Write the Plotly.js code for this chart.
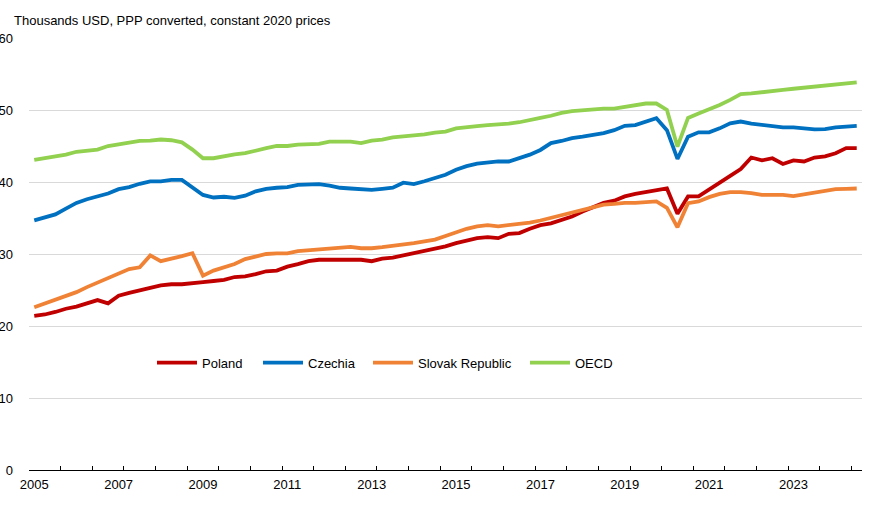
<!DOCTYPE html>
<html>
<head>
<meta charset="utf-8">
<script src="https://cdn.plot.ly/plotly-3.0.1.min.js"></script>
<style>
  html, body { margin: 0; padding: 0; background: #fff; }
  #chart { width: 877px; height: 508px; }
</style>
</head>
<body>
<div id="chart"></div>
<script>
// Quarterly categories, 2005Q1 to 2024Q3
const quarters = [
  "2005Q1","2005Q2","2005Q3","2005Q4",
  "2006Q1","2006Q2","2006Q3","2006Q4",
  "2007Q1","2007Q2","2007Q3","2007Q4",
  "2008Q1","2008Q2","2008Q3","2008Q4",
  "2009Q1","2009Q2","2009Q3","2009Q4",
  "2010Q1","2010Q2","2010Q3","2010Q4",
  "2011Q1","2011Q2","2011Q3","2011Q4",
  "2012Q1","2012Q2","2012Q3","2012Q4",
  "2013Q1","2013Q2","2013Q3","2013Q4",
  "2014Q1","2014Q2","2014Q3","2014Q4",
  "2015Q1","2015Q2","2015Q3","2015Q4",
  "2016Q1","2016Q2","2016Q3","2016Q4",
  "2017Q1","2017Q2","2017Q3","2017Q4",
  "2018Q1","2018Q2","2018Q3","2018Q4",
  "2019Q1","2019Q2","2019Q3","2019Q4",
  "2020Q1","2020Q2","2020Q3","2020Q4",
  "2021Q1","2021Q2","2021Q3","2021Q4",
  "2022Q1","2022Q2","2022Q3","2022Q4",
  "2023Q1","2023Q2","2023Q3","2023Q4",
  "2024Q1","2024Q2","2024Q3"
];

const poland = [
  21.4, 21.6, 21.95, 22.4, 22.7, 23.2, 23.6, 23.15, 24.2, 24.6, 25.0, 25.3, 25.65, 25.8, 25.8, 25.9,
  26.1, 26.25, 26.4, 26.8, 26.9, 27.2, 27.6, 27.7, 28.25, 28.6, 29.0,
  29.2, 29.2, 29.2, 29.2, 29.2, 29.0, 29.35, 29.5, 29.8, 30.05, 30.45, 30.75, 31.05, 31.5, 31.9,
  32.2, 32.35, 32.2, 32.8, 32.9, 33.5, 34.0, 34.25, 34.7, 35.2, 35.9, 36.5,
  37.1, 37.4, 38.0, 38.35, 38.6, 38.85, 39.1, 35.6, 38.0, 38.0, 38.9, 39.9, 40.85, 41.8, 43.4,
  43.0, 43.3, 42.5, 43.0, 42.85, 43.4, 43.55, 44.0, 44.7, 44.7
];

const czechia = [
  34.67, 35.1, 35.5, 36.3, 37.1, 37.6, 38.0, 38.4, 39.0, 39.3, 39.75, 40.1, 40.1, 40.3, 40.3, 39.3,
  38.2, 37.85, 37.95, 37.8, 38.1, 38.7, 39.05, 39.2, 39.3, 39.6, 39.7,
  39.7, 39.5, 39.2, 39.1, 39.05, 38.9, 39.05, 39.2, 39.9, 39.7, 40.1, 40.5, 41.0, 41.7, 42.2,
  42.55, 42.75, 42.85, 42.85, 43.3, 43.8, 44.45, 45.4, 45.7, 46.1, 46.3, 46.5,
  46.8, 47.2, 47.8, 47.9, 48.4, 48.85, 47.2, 43.2, 46.3, 46.9, 46.9, 47.45, 48.15, 48.4, 48.1,
  47.95, 47.8, 47.6, 47.6, 47.45, 47.3, 47.35, 47.6, 47.7, 47.8
];

const slovak = [
  22.6, 23.1, 23.6, 24.1, 24.7, 25.4, 26.0, 26.7, 27.3, 27.9, 28.15, 29.8, 29.0, 29.3, 29.7, 30.1,
  27.0, 27.7, 28.1, 28.6, 29.3, 29.6, 30.0, 30.1, 30.1, 30.4, 30.5,
  30.65, 30.8, 30.9, 31.0, 30.8, 30.8, 30.95, 31.1, 31.3, 31.5, 31.75, 32.0, 32.5, 33.05, 33.5,
  33.85, 34.0, 33.85, 34.0, 34.15, 34.35, 34.65, 35.0, 35.35, 35.8, 36.1, 36.5,
  36.85, 36.95, 37.1, 37.1, 37.2, 37.3, 36.4, 33.7, 37.05, 37.3, 37.9, 38.35, 38.6, 38.6, 38.45,
  38.2, 38.2, 38.2, 38.05, 38.3, 38.6, 38.8, 39.0, 39.05, 39.1
];

const oecd = [
  43.07, 43.3, 43.5, 43.8, 44.2, 44.4, 44.5, 45.0, 45.2, 45.5, 45.7, 45.75, 45.9, 45.8, 45.5, 44.5,
  43.3, 43.3, 43.6, 43.85, 44.0, 44.4, 44.7, 45.0, 45.0, 45.2, 45.3,
  45.3, 45.6, 45.6, 45.6, 45.4, 45.75, 45.9, 46.2, 46.35, 46.45, 46.6, 46.85, 47.0, 47.45, 47.65,
  47.75, 47.9, 47.95, 48.1, 48.3, 48.55, 48.9, 49.2, 49.6, 49.85, 50.0, 50.1,
  50.2, 50.2, 50.4, 50.7, 50.9, 50.9, 50.0, 44.9, 48.9, 49.5, 50.05, 50.7, 51.4, 52.2, 52.3,
  52.5, 52.7, 52.8, 52.95, 53.1, 53.2, 53.4, 53.5, 53.65, 53.85
];

const seriesNames = ["Poland", "Czechia", "Slovak Republic", "OECD"];
const seriesColors = ["#C00000", "#0070C0", "#F08236", "#92D050"];
const tickLabels = ["2005","2007","2009","2011","2013","2015","2017","2019","2021","2023"];
const titleText = "Thousands USD, PPP converted, constant 2020 prices";

// numeric position of each quarter (category centre)
function qpos(q) { return parseInt(q.slice(0, 4), 10) + (parseInt(q.slice(5), 10) - 1) / 4; }
const xs = quarters.map(qpos);
const half = 0.125;
const xRange = [xs[0] - half, xs[xs.length - 1] + half];
const tickVals = tickLabels.map(t => qpos(t + "Q1"));
// tick marks at category boundaries every 3 quarters
const boundaryTicks = [];
for (let i = 0; i < xs.length; i += 3) boundaryTicks.push(xs[i] - half);

const FONT = "Liberation Sans, Arial, sans-serif";
const legendIds = ["legend", "legend2", "legend3", "legend4"];
const legendLeftPx = [152, 258, 368, 525];   // legend box positions (layout)
const allSeries = [poland, czechia, slovak, oecd];
const traces = allSeries.map((vals, k) => ({
  type: "scatter",
  mode: "lines",
  name: seriesNames[k],
  legend: legendIds[k],
  x: xs,
  y: vals,
  // last series sits on the overlay axis that carries the boundary tick marks
  xaxis: k === allSeries.length - 1 ? "x2" : "x",
  line: { color: seriesColors[k], width: 3.8 },
  hoverinfo: "skip"
}));

const plotLeft = 29, plotWidth = 833, plotBottom = 470.3, plotHeight = 432;

const layout = {
  width: 877,
  height: 508,
  paper_bgcolor: "#ffffff",
  plot_bgcolor: "#ffffff",
  margin: { l: 29, r: 15, t: 38, b: 38, pad: 0 },
  font: { family: FONT, size: 13, color: "#000000" },
  title: {
    text: titleText,
    font: { family: FONT, size: 13, color: "#000000" },
    xref: "container", yref: "container",
    x: 14 / 877, xanchor: "left",
    y: 1 - 20 / 508, yanchor: "middle"
  },
  showlegend: true,
  xaxis: {
    type: "linear",
    range: xRange,
    tickmode: "array",
    tickvals: tickVals,
    ticktext: tickLabels,
    ticks: "",
    showgrid: false,
    zeroline: false,
    showline: true,
    linecolor: "#000000",
    linewidth: 1,
    tickfont: { family: FONT, size: 13, color: "#000000" },
    ticklabelstandoff: 2,
    fixedrange: true
  },
  xaxis2: {
    type: "linear",
    overlaying: "x",
    anchor: "y",
    side: "bottom",
    range: xRange,
    tickmode: "array",
    tickvals: boundaryTicks,
    ticks: "inside",
    ticklen: 4,
    tickwidth: 1,
    tickcolor: "#000000",
    showticklabels: false,
    showgrid: false,
    zeroline: false,
    showline: false,
    fixedrange: true
  },
  yaxis: {
    range: [0, 60],
    tickmode: "array",
    tickvals: [0, 10, 20, 30, 40, 50, 60],
    ticktext: ["0", "10", "20", "30", "40", "50", "60"],
    ticks: "",
    showgrid: true,
    gridcolor: "#D9D9D9",
    gridwidth: 1,
    zeroline: false,
    showline: false,
    tickfont: { family: FONT, size: 13, color: "#000000" },
    ticklabelstandoff: 15,
    fixedrange: true
  }
};

legendIds.forEach((id, k) => {
  layout[id] = {
    orientation: "h",
    x: (legendLeftPx[k] - plotLeft) / plotWidth, xanchor: "left",
    y: (plotBottom - 363) / plotHeight, yanchor: "middle",
    font: { family: FONT, size: 13, color: "#000000" },
    bgcolor: "rgba(0,0,0,0)",
    itemwidth: 40
  };
});

Plotly.newPlot("chart", traces, layout, { displayModeBar: false, staticPlot: true });
</script>
</body>
</html>
